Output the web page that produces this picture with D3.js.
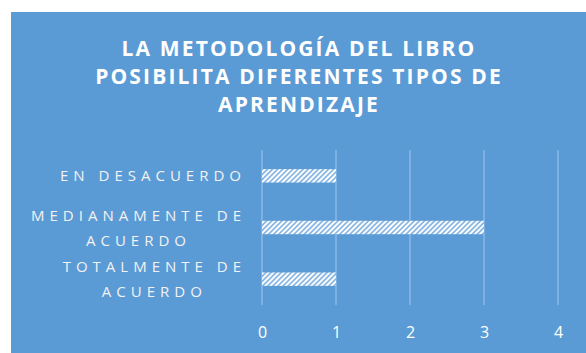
<!DOCTYPE html>
<html>
<head>
<meta charset="utf-8">
<script src="https://cdn.jsdelivr.net/npm/d3@7"></script>
<style>
  html, body { margin: 0; padding: 0; background: #ffffff; }
  svg { display: block; }
</style>
</head>
<body>
<div id="chart"></div>
<script>
// Survey answers: number of responses per category (top to bottom)
const categories = ["EN DESACUERDO", "MEDIANAMENTE DE ACUERDO", "TOTALMENTE DE ACUERDO"];
const categoryLines = [["EN DESACUERDO"], ["MEDIANAMENTE DE", "ACUERDO"], ["TOTALMENTE DE", "ACUERDO"]];
const values = [1, 3, 1];
const xTicks = [0, 1, 2, 3, 4];
const titleLines = ["LA METODOLOGÍA DEL LIBRO", "POSIBILITA DIFERENTES TIPOS DE", "APRENDIZAJE"];

const W = 586, H = 353;
const panel = { x: 11, y: 12 };
const plot = { left: 262, right: 558, top: 150, bottom: 305 };
const blue = "#5b9bd5";

const svg = d3.select("#chart").append("svg")
  .attr("width", W).attr("height", H);

// striped fill for the bars
const defs = svg.append("defs");
const pat = defs.append("pattern")
  .attr("id", "hatch")
  .attr("patternUnits", "userSpaceOnUse")
  .attr("width", 3.6).attr("height", 3.6)
  .attr("patternTransform", "rotate(45)");
pat.append("rect").attr("width", 3.6).attr("height", 3.6).attr("fill", "#86b5e2");
pat.append("rect").attr("width", 1.9).attr("height", 3.6).attr("fill", "#ffffff");

// chart area background
svg.append("rect")
  .attr("x", panel.x).attr("y", panel.y)
  .attr("width", W - panel.x).attr("height", H - panel.y)
  .attr("fill", blue);

// title
const title = svg.append("text")
  .attr("text-anchor", "middle")
  .attr("font-family", "'Open Sans', sans-serif")
  .attr("font-weight", "bold")
  .attr("font-size", 21)
  .attr("letter-spacing", 2.15)
  .attr("fill", "#ffffff");
titleLines.forEach((t, i) => {
  title.append("tspan").attr("x", 299).attr("y", 56 + i * 28).text(t);
});

const x = d3.scaleLinear().domain([0, 4]).range([plot.left, plot.right]);
const y = d3.scaleBand().domain(categories).range([plot.top, plot.bottom]).paddingInner(0.74).paddingOuter(0.37);

// vertical gridlines
svg.append("g")
  .selectAll("line")
  .data(xTicks)
  .join("line")
  .attr("x1", d => x(d)).attr("x2", d => x(d))
  .attr("y1", plot.top).attr("y2", plot.bottom)
  .attr("stroke", "#8ab8e4")
  .attr("stroke-width", 1.5);

// bars
svg.append("g")
  .selectAll("rect")
  .data(categories)
  .join("rect")
  .attr("x", x(0))
  .attr("y", d => y(d))
  .attr("width", (d, i) => x(values[i]) - x(0))
  .attr("height", y.bandwidth())
  .attr("fill", "url(#hatch)");

// x axis labels
const xAxis = svg.append("g")
  .attr("transform", `translate(0,${plot.bottom})`)
  .call(d3.axisBottom(x).tickValues(xTicks).tickSize(0).tickPadding(22).tickFormat(d3.format("d")));
xAxis.select(".domain").remove();
xAxis.selectAll("text")
  .attr("font-family", "'Open Sans', sans-serif")
  .attr("font-size", 16)
  .attr("fill", "#ffffff");

// category labels, wrapped lines centred on each other, block right-aligned
const labelRight = 241;
const lineGap = 25;
const spacing = 5;
categories.forEach((c, i) => {
  const lines = categoryLines[i];
  const cy = y(c) + y.bandwidth() / 2;
  const g = svg.append("g");
  const texts = lines.map((t, j) => g.append("text")
    .attr("font-family", "'Open Sans', sans-serif")
    .attr("font-size", 15)
    .attr("letter-spacing", spacing)
    .attr("fill", "#f2f2f2")
    .attr("y", cy + 5.5 + (j - (lines.length - 1) / 2) * lineGap)
    .text(t));
  const widths = texts.map(t => t.node().getComputedTextLength() - spacing);
  const maxW = d3.max(widths);
  texts.forEach((t, j) => {
    t.attr("x", labelRight - maxW + (maxW - widths[j]) / 2);
  });
});
</script>
</body>
</html>
